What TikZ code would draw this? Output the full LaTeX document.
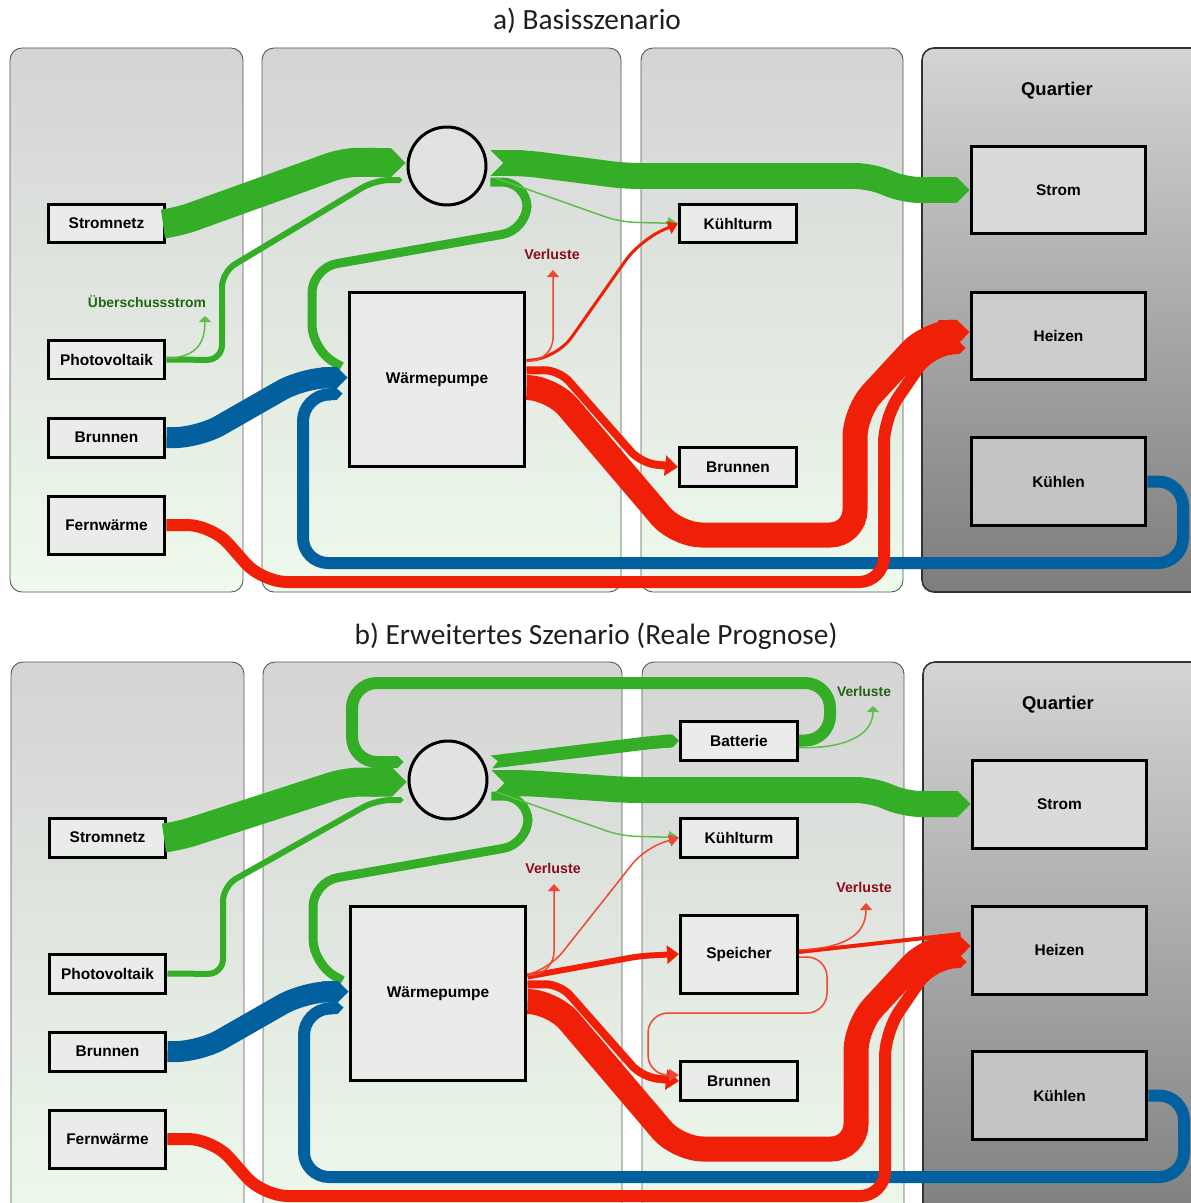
\documentclass[tikz,border=0pt]{standalone}
\usepackage{fontspec}
\setmainfont{Liberation Sans}
\newfontfamily\titlefont{Carlito}
\usetikzlibrary{arrows.meta,calc}

\definecolor{flowgreen}{RGB}{52,174,38}
\definecolor{thingreen}{RGB}{95,190,75}
\definecolor{flowblue}{RGB}{2,96,158}
\definecolor{flowred}{RGB}{240,32,8}
\definecolor{thinred}{RGB}{242,70,50}
\definecolor{lossred}{RGB}{140,12,30}
\definecolor{lossgreen}{RGB}{35,100,20}
\definecolor{coltop}{RGB}{212,212,212}
\definecolor{colbot}{RGB}{238,250,236}
\definecolor{colline}{RGB}{85,85,85}
\definecolor{qtop}{RGB}{212,212,212}
\definecolor{qbot}{RGB}{125,125,125}
\definecolor{unitfill}{RGB}{234,236,234}
\definecolor{qfillA}{RGB}{218,218,218}
\definecolor{qfillB}{RGB}{205,205,205}
\definecolor{qfillC}{RGB}{196,196,196}

\tikzset{
  panelcol/.style={draw=colline, line width=0.5pt, rounded corners=2.4mm,
    top color=coltop, bottom color=colbot},
  quartiercol/.style={draw=black!80, line width=0.9pt, rounded corners=2.4mm,
    top color=qtop, bottom color=qbot},
  unitbox/.style={draw=black, line width=0.6mm, inner sep=0pt,
    font=\fontsize{8.8}{10}\selectfont\bfseries},
  srcbox/.style={unitbox, fill=unitfill, minimum width=23.4mm, minimum height=7.8mm},
  wpbox/.style={unitbox, fill=unitfill, minimum width=35.2mm, minimum height=35mm},
  qbox/.style={unitbox, minimum width=35mm, minimum height=17.6mm},
  hubcirc/.style={circle, draw=black, line width=0.6mm, fill=unitfill!96!black,
    minimum size=15.6mm, inner sep=0pt},
  paneltitle/.style={font=\titlefont\fontsize{16.7}{18}\selectfont, text=black!88},
  qtitle/.style={font=\fontsize{10.5}{12}\selectfont\bfseries},
  losstext/.style={font=\fontsize{8.1}{9}\selectfont\bfseries, text=lossred},
  lossgtext/.style={font=\fontsize{7.9}{9}\selectfont\bfseries, text=lossgreen},
  gband/.style={draw=flowgreen, rounded corners=3mm},
  bband/.style={draw=flowblue, rounded corners=5mm},
  rband/.style={draw=flowred, rounded corners=5mm},
  gthin/.style={draw=thingreen, line width=0.3mm, rounded corners=3mm,
    -{Triangle[length=2mm,width=2.4mm]}},
  rthin/.style={draw=thinred, line width=0.3mm, rounded corners=4mm,
    -{Triangle[length=1.4mm,width=2.4mm]}},
}

\begin{document}
\begin{tikzpicture}[x=0.02cm, y=-0.02cm]
\useasboundingbox (0,0) rectangle (1190,1203);

% a) Basisszenario
\node[paneltitle] (atitle) at (587,21) {a) Basisszenario};
\draw[panelcol] (10,48) rectangle (243,592);
\draw[panelcol] (262,48) rectangle (621,592);
\draw[panelcol] (641,48) rectangle (903,592);
\draw[quartiercol] (922,48) rectangle (1235,592);

\node[srcbox] (asn) at (106.5,223.5) {Stromnetz};
\node[srcbox] (apv) at (106.5,359.5) {Photovoltaik};
\node[srcbox] (abr) at (106.5,437.5) {Brunnen};
\node[srcbox, minimum height=11.6mm] (afw) at (106.5,525) {Fernwärme};
\node[hubcirc] (acirc) at (447,166) {};
\node[wpbox] (awp) at (437,379.5) {Wärmepumpe};
\node[srcbox] (akt) at (738,223.5) {Kühlturm};
\node[srcbox] (abr2) at (738,467) {Brunnen};
\node[qtitle] (aq) at (1057,91) {Quartier};
\node[qbox, fill=qfillA] (ast) at (1058.5,190) {Strom};
\node[qbox, fill=qfillB] (ahz) at (1058.5,336) {Heizen};
\node[qbox, fill=qfillC] (akh) at (1058.5,481.5) {Kühlen};

% strom
\draw[gband, line width=5.8mm, -{Triangle Cap}] (asn.east) -- (178,222) -- (345,162) -- ($(acirc.west)+(-1,-3)$);
\draw[gband, line width=1.2mm, -{Triangle Cap}] (apv.east) -- (222,360) -- (222,272) -- (375,180) -- ($(acirc.west)+(-4,14)$);
\draw[draw=thingreen, line width=0.3mm, -{Triangle[length=1.2mm,width=2.4mm]}] ($(apv.east)+(0,-1)$) .. controls (195,357) and (205,345) .. (205,316);
\node[lossgtext] (aus) at (147,302) {Überschussstrom};
\draw[gband, line width=5.2mm, {Triangle Cap[reversed]}-{Triangle Cap}] ($(acirc.east)+(3,-3)$) -- (525,163) -- (625,176) -- (870,176) -- (905,190) -- (ast.west);
\draw[gband, line width=1.8mm, rounded corners=5mm] ($(acirc.east)+(3,16)$) -- (527,182) -- (527,230) -- (312,268) -- (312,350) -- ($(awp.west)+(-6,-13)$);
\draw[gthin] ($(acirc.east)+(8,12)$) -- (620,222) -- (akt.west);

% kaelte
\draw[bband, line width=4.2mm, -{Triangle Cap}] (abr.east) -- (198,438) -- (303,378) -- ($(awp.west)+(0,-2)$);
\draw[bband, line width=2.4mm, -{Triangle Cap}] (akh.east) -- (1183,481.5) -- (1183,563) -- (303,563) -- (303,396) -- ($(awp.west)+(-5,14)$);

% waerme
\draw[rband, line width=2.4mm, -{Triangle Cap}] (afw.east) -- (212,525) -- (262,582) -- (884,582) -- (884,418) -- (932,348) -- ($(ahz.west)+(-4,12)$);
\draw[rband, line width=5mm, -{Triangle Cap}] ($(awp.east)+(0,8)$) -- (552,388) -- (677,535) -- (855,535) -- (855,412) -- (928,333) -- ($(ahz.west)+(0,-4)$);
\draw[rband, line width=1.6mm, -{Triangle[length=2.6mm,width=4mm]}, rounded corners=3mm] ($(awp.east)+(0,-9)$) -- (559,370) -- (641,463) -- (abr2.west);
\draw[rband, line width=0.6mm, -{Triangle[length=2mm,width=2.6mm]}] ($(awp.east)+(0,-19)$) -- (557,358) -- (640,240) -- (akt.west);
\draw[rthin] ($(awp.east)+(0,-18)$) -- (553,358) -- (553,270);
\node[losstext] (avl) at (552,254) {Verluste};

% b) Erweitertes Szenario
\node[paneltitle] (btitle) at (596,636) {b) Erweitertes Szenario (Reale Prognose)};
\draw[panelcol] (11,662) rectangle (244,1235);
\draw[panelcol] (263,662) rectangle (622,1235);
\draw[panelcol] (642,662) rectangle (904,1235);
\draw[quartiercol] (923,662) rectangle (1235,1235);

\node[srcbox] (bsn) at (107.5,837.5) {Stromnetz};
\node[srcbox] (bpv) at (107.5,973.5) {Photovoltaik};
\node[srcbox] (bbr) at (107.5,1051.5) {Brunnen};
\node[srcbox, minimum height=11.6mm] (bfw) at (107.5,1139) {Fernwärme};
\node[hubcirc] (bcirc) at (448,780) {};
\node[wpbox] (bwp) at (438,993.5) {Wärmepumpe};
\node[srcbox] (bbat) at (739,740.5) {Batterie};
\node[srcbox] (bkt) at (739,837.5) {Kühlturm};
\node[srcbox, minimum height=15.6mm] (bsp) at (739,954) {Speicher};
\node[srcbox] (bbr2) at (739,1081) {Brunnen};
\node[qtitle] (bq) at (1058,705) {Quartier};
\node[qbox, fill=qfillA] (bst) at (1059.5,804) {Strom};
\node[qbox, fill=qfillB] (bhz) at (1059.5,950) {Heizen};
\node[qbox, fill=qfillC] (bkh) at (1059.5,1095.5) {Kühlen};

% strom
\draw[gband, line width=5.8mm, -{Triangle Cap}] (bsn.east) -- (179,836) -- (346,782) -- ($(bcirc.west)+(-1,2)$);
\draw[gband, line width=2.4mm, -{Triangle Cap}, rounded corners=5mm] (bbat.east) -- (830,740.5) -- (830,683) -- (352,683) -- (352,762) -- ($(bcirc.west)+(-4,-18)$);
\draw[gband, line width=1.2mm, -{Triangle Cap}] (bpv.east) -- (223,974) -- (223,886) -- (376,800) -- ($(bcirc.west)+(-4,20)$);
\draw[gband, line width=2.6mm, {Triangle Cap[reversed]}-{Triangle Cap}] ($(bcirc.east)+(3,-18)$) -- (655,742) -- (bbat.west);
\draw[gband, line width=5.2mm, {Triangle Cap[reversed]}-{Triangle Cap}] ($(bcirc.east)+(3,3)$) -- (526,783) -- (626,790) -- (871,790) -- (906,804) -- (bst.west);
\draw[gband, line width=1.8mm, rounded corners=5mm] ($(bcirc.east)+(3,16)$) -- (528,796) -- (528,844) -- (313,882) -- (313,964) -- ($(bwp.west)+(-6,-13)$);
\draw[gthin] ($(bcirc.east)+(8,12)$) -- (621,836) -- (bkt.west);
\draw[draw=thingreen, line width=0.3mm, -{Triangle[length=1.2mm,width=2.4mm]}] ($(bbat.east)+(0,7)$) .. controls (845,749) and (873,735) .. (873,706);
\node[lossgtext] (bvlg) at (864,692) {Verluste};

% kaelte
\draw[bband, line width=4.2mm, -{Triangle Cap}] (bbr.east) -- (199,1052) -- (304,992) -- ($(bwp.west)+(0,-2)$);
\draw[bband, line width=2.4mm, -{Triangle Cap}] (bkh.east) -- (1184,1095.5) -- (1184,1177) -- (304,1177) -- (304,1010) -- ($(bwp.west)+(-5,14)$);

% waerme
\draw[rband, line width=2.4mm, -{Triangle Cap}] (bfw.east) -- (213,1139) -- (263,1196) -- (885,1196) -- (885,1032) -- (933,962) -- ($(bhz.west)+(-4,12)$);
\draw[rband, line width=5mm, -{Triangle Cap}] ($(bwp.east)+(0,8)$) -- (553,1002) -- (678,1149) -- (856,1149) -- (856,1026) -- (929,947) -- ($(bhz.west)+(0,-4)$);
\draw[rband, line width=1.6mm, -{Triangle[length=2.6mm,width=4mm]}, rounded corners=3mm] ($(bwp.east)+(0,-9)$) -- (560,984) -- (642,1077) -- (bbr2.west);
\draw[rband, line width=1.2mm, -{Triangle[length=2.4mm,width=3.6mm]}, rounded corners=2mm] ($(bwp.east)+(0,-17)$) -- (640,956) -- (bsp.west);
\draw[rthin, -{Triangle[length=2mm,width=2.4mm]}] ($(bwp.east)+(0,-19)$) -- (550,968) -- (645,848) -- (bkt.west);
\draw[rthin] ($(bwp.east)+(0,-18)$) -- (554,972) -- (554,884);
\node[losstext] (bvlw) at (553,868) {Verluste};
\draw[rband, line width=0.8mm] ($(bsp.east)+(0,-2)$) -- ($(bhz.west)+(-10,-16)$);
\draw[rthin] ($(bsp.east)+(0,-4)$) .. controls (845,948) and (866,935) .. (866,903);
\node[losstext] (bvls) at (864,887) {Verluste};
\draw[rthin, rounded corners=4mm, -{Triangle[length=2mm,width=2.4mm]}] ($(bsp.east)+(0,3)$) -- (827,957) -- (827,1013) -- (648,1013) -- (648,1075) -- ($(bbr2.west)+(0,-6)$);
\end{tikzpicture}
\end{document}
